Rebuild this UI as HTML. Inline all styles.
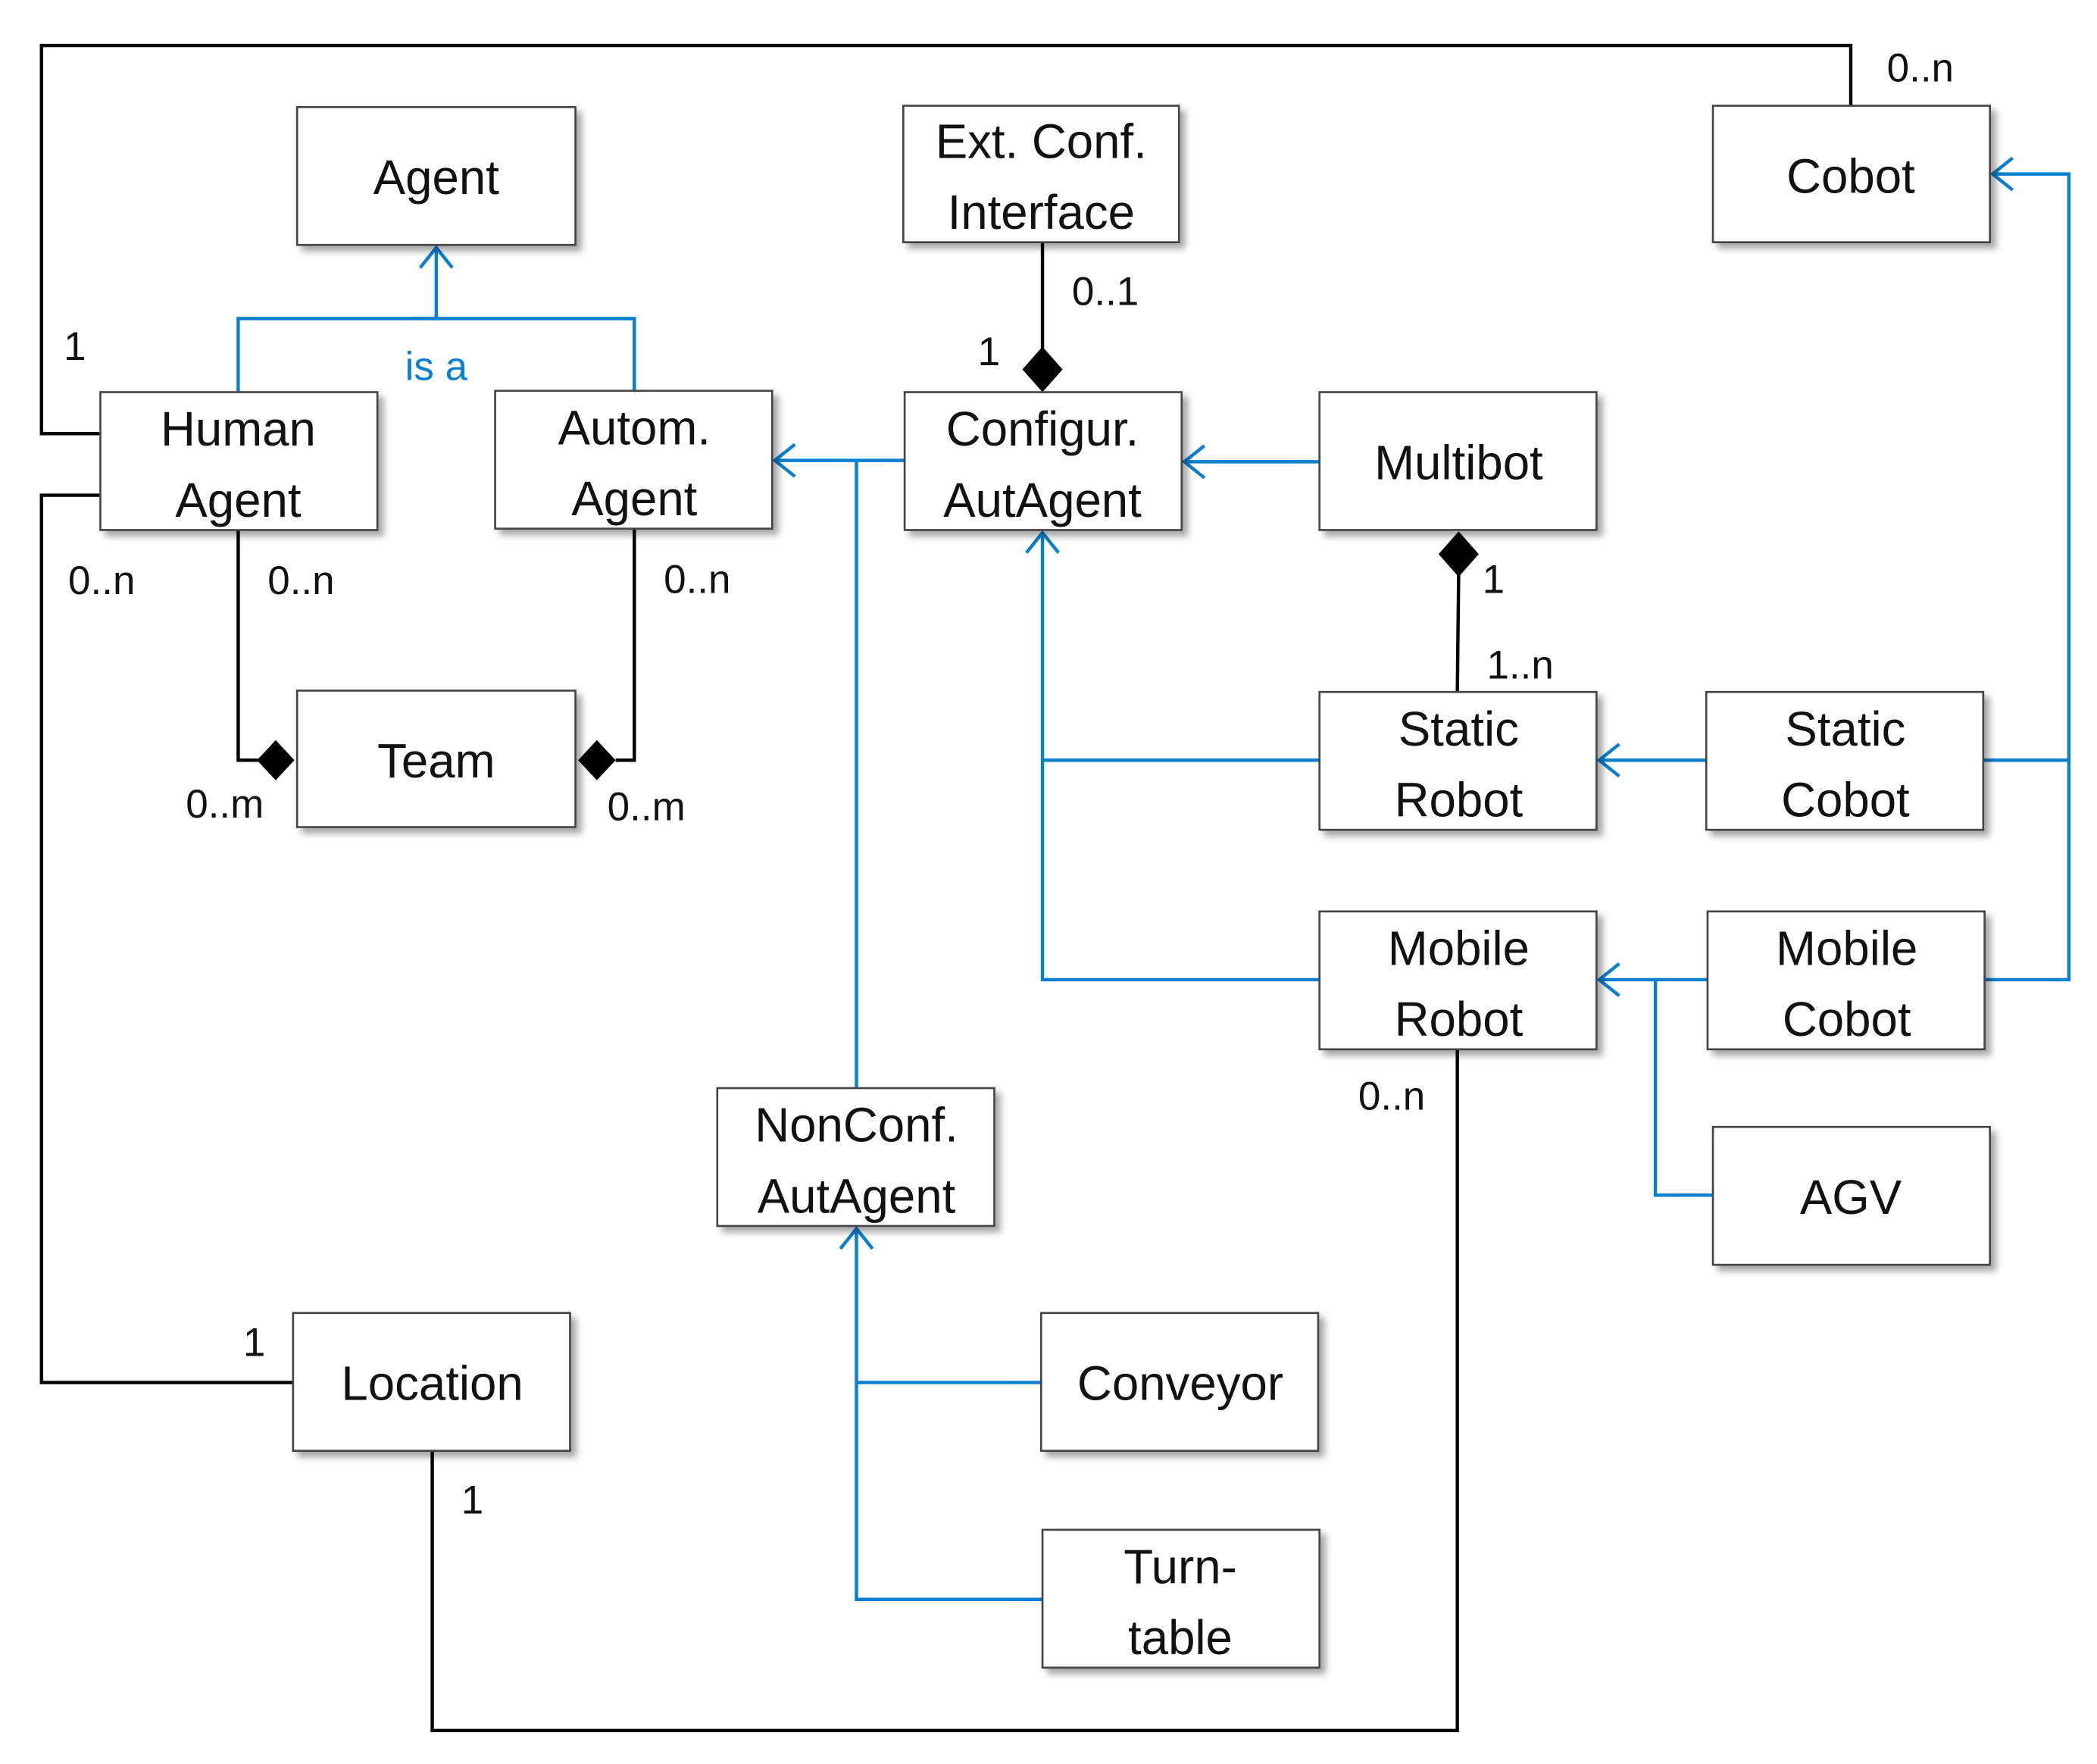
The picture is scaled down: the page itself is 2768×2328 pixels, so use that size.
<!DOCTYPE html>
<html><head><meta charset="utf-8"><style>
html,body{margin:0;padding:0;background:#fff;}
svg{display:block;}
text{font-family:"Liberation Sans",sans-serif;}
</style></head><body>
<svg width="2768" height="2328" viewBox="0 0 1567 1318" preserveAspectRatio="none" xmlns="http://www.w3.org/2000/svg">
<defs>
<filter id="sh" x="-10%" y="-10%" width="130%" height="130%"><feDropShadow dx="4" dy="4" stdDeviation="2.5" flood-color="#000" flood-opacity="0.35"/></filter>
</defs>
<g fill="none" stroke="#000" stroke-width="2.5">
<polyline points="1383,79 1383,34 31,34 31,324 75,324"/>
<polyline points="75,370 31,370 31,1033 219,1033"/>
<polyline points="178,396 178,568 194,568"/>
<polyline points="474,395 474,568 460,568"/>
<line x1="779" y1="181" x2="779" y2="262"/>
<line x1="1090" y1="428" x2="1089" y2="517"/>
<polyline points="1089,784 1089,1293 323,1293 323,1084"/>
</g>
<g fill="#000">
<polygon points="192,568 206,553 220,568 206,583"/>
<polygon points="432,568 446,553 460,568 446,583"/>
<polygon points="779,259 794,276 779,293 764,276"/>
<polygon points="1090,397 1105,414 1090,431 1075,414"/>
</g>
<g fill="none" stroke="#0a7fd0" stroke-width="2.5">
<polyline points="178,293 178,238 474,238 474,292"/>
<line x1="326" y1="238" x2="326" y2="185"/>
<line x1="676" y1="344" x2="579" y2="344"/>
<line x1="640" y1="813" x2="640" y2="344"/>
<line x1="986" y1="345" x2="885" y2="345"/>
<polyline points="986,568 779,568"/>
<polyline points="986,732 779,732 779,398"/>
<line x1="1275" y1="568" x2="1195" y2="568"/>
<line x1="1276" y1="732" x2="1195" y2="732"/>
<polyline points="1280,893 1237,893 1237,732"/>
<polyline points="1482,568 1546,568"/>
<polyline points="1483,732 1546,732 1546,130 1489,130"/>
<polyline points="778,1033 640,1033"/>
<polyline points="779,1195 640,1195 640,918"/>
<polyline points="314,200 326,185 338,200"/>
<polyline points="594,332 579,344 594,356"/>
<polyline points="900,333 885,345 900,357"/>
<polyline points="767,413 779,398 791,413"/>
<polyline points="1210,556 1195,568 1210,580"/>
<polyline points="1210,720 1195,732 1210,744"/>
<polyline points="1504,118 1489,130 1504,142"/>
<polyline points="628,933 640,918 652,933"/>
</g>
<g fill="#fff" stroke="#444" stroke-width="1.5" filter="url(#sh)">
<rect x="222" y="80" width="208" height="103"/>
<rect x="675" y="79" width="206" height="102"/>
<rect x="1280" y="79" width="207" height="102"/>
<rect x="75" y="293" width="207" height="103"/>
<rect x="370" y="292" width="207" height="103"/>
<rect x="676" y="293" width="207" height="103"/>
<rect x="986" y="293" width="207" height="103"/>
<rect x="222" y="516" width="208" height="102"/>
<rect x="986" y="517" width="207" height="103"/>
<rect x="1275" y="517" width="207" height="103"/>
<rect x="986" y="681" width="207" height="103"/>
<rect x="1276" y="681" width="207" height="103"/>
<rect x="536" y="813" width="207" height="103"/>
<rect x="1280" y="842" width="207" height="103"/>
<rect x="219" y="981" width="207" height="103"/>
<rect x="778" y="981" width="207" height="103"/>
<rect x="779" y="1143" width="207" height="103"/>
</g>
<g font-size="36" fill="#111" text-anchor="middle">
<text x="326" y="145">Agent</text>
<text x="778" y="118">Ext. Conf.</text>
<text x="778" y="171">Interface</text>
<text x="1383" y="144">Cobot</text>
<text x="178" y="333">Human</text>
<text x="178" y="386">Agent</text>
<text x="474" y="332">Autom.</text>
<text x="474" y="385">Agent</text>
<text x="779" y="333">Configur.</text>
<text x="779" y="386">AutAgent</text>
<text x="1090" y="358">Multibot</text>
<text x="326" y="581">Team</text>
<text x="1090" y="557">Static</text>
<text x="1090" y="610">Robot</text>
<text x="1379" y="557">Static</text>
<text x="1379" y="610">Cobot</text>
<text x="1090" y="721">Mobile</text>
<text x="1090" y="774">Robot</text>
<text x="1380" y="721">Mobile</text>
<text x="1380" y="774">Cobot</text>
<text x="640" y="853">NonConf.</text>
<text x="640" y="906">AutAgent</text>
<text x="1383" y="907">AGV</text>
<text x="323" y="1046">Location</text>
<text x="882" y="1046">Conveyor</text>
<text x="882" y="1183">Turn-</text>
<text x="882" y="1236">table</text>
</g>
<g font-size="30" fill="#111" text-anchor="middle">
<text x="1435" y="61">0..n</text>
<text x="56" y="269">1</text>
<text x="76" y="444">0..n</text>
<text x="225" y="444">0..n</text>
<text x="521" y="443">0..n</text>
<text x="168" y="611">0..m</text>
<text x="483" y="613">0..m</text>
<text x="826" y="228">0..1</text>
<text x="739" y="273">1</text>
<text x="1116" y="443">1</text>
<text x="1136" y="507">1..n</text>
<text x="1040" y="829">0..n</text>
<text x="190" y="1013">1</text>
<text x="353" y="1131">1</text>
</g>
<text x="326" y="284" font-size="30" fill="#0a7fd0" text-anchor="middle">is a</text>
</svg>
</body></html>
